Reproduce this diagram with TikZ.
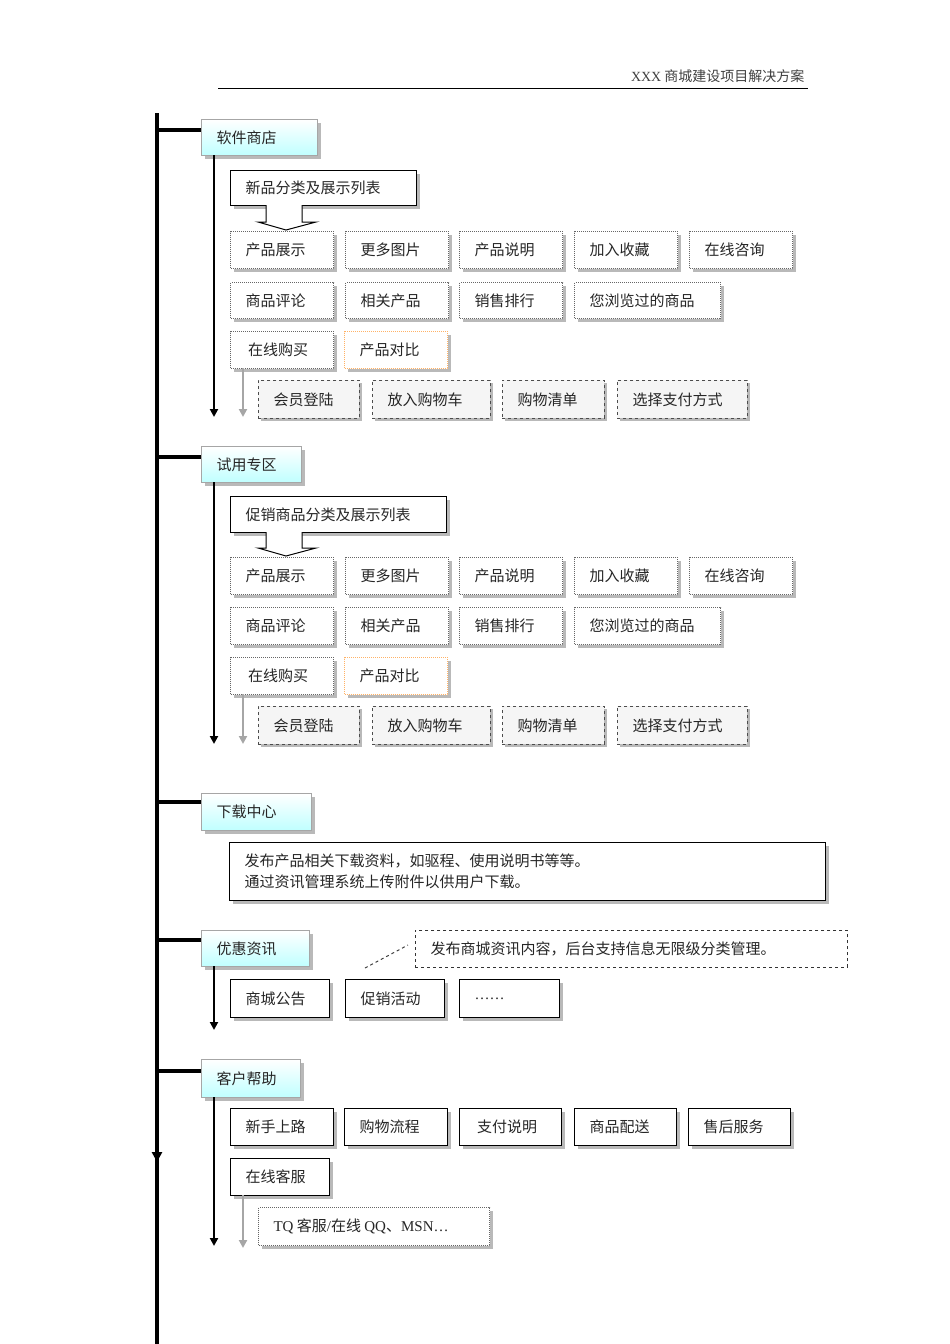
\documentclass[tikz,border=0pt]{standalone}
\usepackage{fontspec}
\setmainfont{Noto Sans CJK SC}
\newfontfamily\latinf{Liberation Serif}
\usetikzlibrary{shadows,arrows.meta}
\tikzset{
 base/.style={anchor=north west,inner sep=0pt,font=\fontsize{15}{18}\selectfont,text=black!85,drop shadow={shadow xshift=3pt,shadow yshift=-3pt,fill=gray!55,opacity=1}},
 solidb/.style={base,draw=black,line width=1.3pt,fill=white},
 dotb/.style={base,draw=gray!80!black,densely dotted,line width=1pt,fill=white},
 orgb/.style={base,draw=orange!60,densely dotted,line width=1pt,fill=white},
 dashb/.style={base,draw=black!70,dashed,line width=0.9pt,fill=gray!8},
 headb/.style={base,draw=gray!70,line width=1.2pt,top color=white,bottom color=cyan!25},
 trunk/.style={line width=3.3pt},
 sub/.style={line width=2pt,-{Triangle[length=8pt,width=8pt]}},
 gsub/.style={line width=2pt,draw=gray!70,-{Triangle[length=8pt,width=8pt]}},
}
\newcommand{\bx}[7]{\node[#6,minimum width=#4pt-#2pt,minimum height=#5pt-#3pt] (#1) at (#2pt,-#3pt) {};
 \node[anchor=west,font=\fontsize{15}{18}\selectfont,text=black!85] at ([xshift=12pt]#1.west) {#7};}
\begin{document}
\begin{tikzpicture}[x=1pt,y=-1pt]
\useasboundingbox (0,0) rectangle (950,1344);
\node[anchor=south east,font=\fontsize{14}{16}\selectfont,text=black!75] (title) at (808,86) {{\latinf XXX} 商城建设项目解决方案};
\draw[line width=0.8pt] (218,88) coordinate (hl) -- (808,88) coordinate (hr);
\coordinate (tt) at (157,113); \coordinate (tb) at (157,1344); \coordinate (ta) at (157,1162);
\draw[trunk] (tt) -- (tb);
\draw[line width=3.3pt,-{Triangle[length=10pt,width=10pt]}] (157,1130) -- (ta);
% section 1
\bx{h1}{201}{119}{317}{155}{headb}{软件商店}
\draw[trunk] (157,130) -- (h1.west|-0,130);
\draw[sub] (214,155) -- (214,417);
\bx{l1}{230}{170}{416}{205}{solidb}{新品分类及展示列表}
\draw[line width=1pt,fill=white] (266,205)--(266,222)--(258,222)--(286,230)--(316,222)--(302,222)--(302,205);
\bx{a1}{230}{231}{333}{268}{dotb}{产品展示}
\bx{a2}{345}{231}{448}{268}{dotb}{更多图片}
\bx{a3}{459}{231}{562}{268}{dotb}{产品说明}
\bx{a4}{574}{231}{677}{268}{dotb}{加入收藏}
\bx{a5}{689}{231}{792}{268}{dotb}{在线咨询}
\bx{b1}{230}{282}{333}{318}{dotb}{商品评论}
\bx{b2}{345}{282}{448}{318}{dotb}{相关产品}
\bx{b3}{459}{282}{562}{318}{dotb}{销售排行}
\bx{b4}{574}{282}{720}{318}{dotb}{您浏览过的商品}
\bx{c1}{230}{331}{333}{368}{dotb}{\,在线购买}
\bx{c2}{344}{331}{447}{368}{orgb}{产品对比}
\draw[gsub] (243,368) -- (243,417);
\bx{d1}{258}{380}{359}{418}{dashb}{会员登陆}
\bx{d2}{372}{380}{490}{418}{dashb}{放入购物车}
\bx{d3}{502}{380}{604}{418}{dashb}{购物清单}
\bx{d4}{617}{380}{747}{418}{dashb}{选择支付方式}
% section 2
\bx{h2}{201}{446}{301}{482}{headb}{试用专区}
\draw[trunk] (157,457) -- (h2.west|-0,457);
\draw[sub] (214,482) -- (214,744);
\bx{l2}{230}{496}{446}{532}{solidb}{促销商品分类及展示列表}
\draw[line width=1pt,fill=white] (266,532)--(266,548)--(258,548)--(286,556)--(316,548)--(302,548)--(302,532);
\bx{e1}{230}{557}{333}{594}{dotb}{产品展示}
\bx{e2}{345}{557}{448}{594}{dotb}{更多图片}
\bx{e3}{459}{557}{562}{594}{dotb}{产品说明}
\bx{e4}{574}{557}{677}{594}{dotb}{加入收藏}
\bx{e5}{689}{557}{792}{594}{dotb}{在线咨询}
\bx{f1}{230}{607}{333}{644}{dotb}{商品评论}
\bx{f2}{345}{607}{448}{644}{dotb}{相关产品}
\bx{f3}{459}{607}{562}{644}{dotb}{销售排行}
\bx{f4}{574}{607}{720}{644}{dotb}{您浏览过的商品}
\bx{g1}{230}{657}{333}{694}{dotb}{\,在线购买}
\bx{g2}{344}{657}{447}{694}{orgb}{产品对比}
\draw[gsub] (243,694) -- (243,744);
\bx{k1}{258}{706}{359}{744}{dashb}{会员登陆}
\bx{k2}{372}{706}{490}{744}{dashb}{放入购物车}
\bx{k3}{502}{706}{604}{744}{dashb}{购物清单}
\bx{k4}{617}{706}{747}{744}{dashb}{选择支付方式}
% section 3
\bx{h3}{201}{793}{311}{830}{headb}{下载中心}
\draw[trunk] (157,802) -- (h3.west|-0,802);
\node[solidb,minimum width=596pt,minimum height=58pt] (dl) at (229,842) {};
\node[anchor=west,align=left,font=\fontsize{15}{21}\selectfont,text=black!85] at ([xshift=12pt]dl.west) {发布产品相关下载资料，如驱程、使用说明书等等。\\通过资讯管理系统上传附件以供用户下载。};
% section 4
\bx{h4}{201}{930}{309}{966}{headb}{优惠资讯}
\draw[trunk] (157,940) -- (h4.west|-0,940);
\node[anchor=north west,draw=black!80,dashed,line width=0.9pt,minimum width=432pt,minimum height=37pt,inner sep=0pt] (note) at (415,930) {};
\node[anchor=west,font=\fontsize{15}{18}\selectfont,text=black!85] at ([xshift=12pt]note.west) {发布商城资讯内容，后台支持信息无限级分类管理。};
\coordinate (nt) at (365,968);
\draw[dashed,line width=1pt,black!75] (nt) -- (408,945);
\draw[sub] (214,966) -- (214,1030);
\bx{m1}{230}{979}{329}{1017}{solidb}{商城公告}
\bx{m2}{345}{979}{444}{1017}{solidb}{促销活动}
\bx{m3}{459}{979}{559}{1017}{solidb}{{\latinf ……}}
% section 5
\bx{h5}{201}{1059}{300}{1097}{headb}{客户帮助}
\draw[trunk] (157,1071) -- (h5.west|-0,1071);
\draw[sub] (214,1097) -- (214,1246);
\bx{n1}{230}{1108}{333}{1145}{solidb}{新手上路}
\bx{n2}{344}{1108}{447}{1145}{solidb}{购物流程}
\bx{n3}{459}{1108}{561}{1145}{solidb}{\,支付说明}
\bx{n4}{574}{1108}{676}{1145}{solidb}{商品配送}
\bx{n5}{688}{1108}{790}{1145}{solidb}{售后服务}
\bx{o1}{230}{1158}{329}{1195}{solidb}{在线客服}
\draw[gsub] (243,1195) -- (243,1248);
\bx{p1}{258}{1207}{489}{1245}{dotb}{{\latinf TQ} 客服{\latinf /}在线 {\latinf QQ}、{\latinf MSN…}}
\end{tikzpicture}
\end{document}
